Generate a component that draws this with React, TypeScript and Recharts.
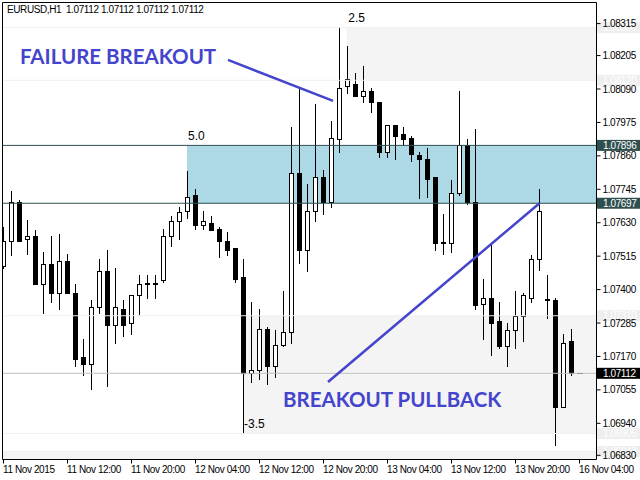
import React from 'react';
import { ComposedChart, Bar, XAxis, YAxis, ReferenceArea, ReferenceLine, ReferenceDot } from 'recharts';

// EURUSD H1 candles (index 0 = 11 Nov 04:00)
const opens = [
  1.07478, 1.07564, 1.07698, 1.07571, 1.07584, 1.07419, 1.07488, 1.07388, 1.07495, 1.07388,
  1.07165, 1.07144, 1.07340, 1.07461, 1.07278, 1.07333, 1.07282, 1.07381, 1.07419, 1.07419,
  1.07430, 1.07581, 1.07633, 1.07667, 1.07725, 1.07622, 1.07629, 1.07608, 1.07567, 1.07540,
  1.07440, 1.07113, 1.07120, 1.07261, 1.07134, 1.07209, 1.07251, 1.07801, 1.07536, 1.07667,
  1.07787, 1.07698, 1.07918, 1.08097, 1.08107, 1.08063, 1.08083, 1.08042, 1.07870, 1.07966,
  1.07932, 1.07921, 1.07860, 1.07849, 1.07784, 1.07560, 1.07560, 1.07729, 1.07894, 1.07698,
  1.07350, 1.07368, 1.07289, 1.07203, 1.07258, 1.07306, 1.07371, 1.07502, 1.07364, 1.07364,
  1.06996, 1.07220, 1.07112,
];
const highs = [
  1.07612, 1.07736, 1.07705, 1.07636, 1.07602, 1.07526, 1.07581, 1.07588, 1.07519, 1.07419,
  1.07230, 1.07361, 1.07502, 1.07536, 1.07471, 1.07364, 1.07381, 1.07450, 1.07447, 1.07447,
  1.07605, 1.07650, 1.07684, 1.07805, 1.07746, 1.07670, 1.07653, 1.07615, 1.07598, 1.07543,
  1.07505, 1.07357, 1.07330, 1.07268, 1.07258, 1.07395, 1.07956, 1.08087, 1.07763, 1.08035,
  1.07808, 1.07977, 1.08300, 1.08235, 1.08142, 1.08169, 1.08093, 1.08045, 1.07966, 1.07966,
  1.07956, 1.07925, 1.07873, 1.07887, 1.07787, 1.07657, 1.07774, 1.08080, 1.07918, 1.07949,
  1.07436, 1.07550, 1.07354, 1.07285, 1.07392, 1.07388, 1.07516, 1.07746, 1.07450, 1.07368,
  1.07244, 1.07264, 1.07112,
];
const lows = [
  1.07474, 1.07516, 1.07564, 1.07519, 1.07416, 1.07319, 1.07354, 1.07333, 1.07385, 1.07137,
  1.07106, 1.07055, 1.07319, 1.07065, 1.07216, 1.07237, 1.07247, 1.07313, 1.07371, 1.07371,
  1.07423, 1.07547, 1.07571, 1.07643, 1.07605, 1.07608, 1.07602, 1.07512, 1.07516, 1.07423,
  1.06907, 1.07079, 1.07089, 1.07072, 1.07096, 1.07203, 1.07216, 1.07491, 1.07461, 1.07633,
  1.07660, 1.07681, 1.07870, 1.08073, 1.08063, 1.08042, 1.08008, 1.07853, 1.07856, 1.07849,
  1.07897, 1.07839, 1.07715, 1.07718, 1.07536, 1.07519, 1.07529, 1.07725, 1.07694, 1.07330,
  1.07227, 1.07172, 1.07199, 1.07134, 1.07196, 1.07220, 1.07357, 1.07464, 1.07299, 1.06865,
  1.06996, 1.07106, 1.07112,
];
const closes = [
  1.07564, 1.07698, 1.07567, 1.07584, 1.07416, 1.07488, 1.07385, 1.07495, 1.07385, 1.07161,
  1.07144, 1.07337, 1.07461, 1.07278, 1.07337, 1.07278, 1.07381, 1.07416, 1.07420, 1.07420,
  1.07581, 1.07633, 1.07664, 1.07718, 1.07619, 1.07633, 1.07602, 1.07567, 1.07536, 1.07436,
  1.07113, 1.07123, 1.07261, 1.07137, 1.07209, 1.07251, 1.07801, 1.07536, 1.07670, 1.07787,
  1.07698, 1.07921, 1.08093, 1.08121, 1.08063, 1.08080, 1.08042, 1.07870, 1.07966, 1.07928,
  1.07918, 1.07863, 1.07849, 1.07780, 1.07560, 1.07561, 1.07732, 1.07897, 1.07698, 1.07344,
  1.07368, 1.07285, 1.07203, 1.07258, 1.07306, 1.07378, 1.07502, 1.07670, 1.07365, 1.06996,
  1.07216, 1.07110, 1.07112,
];

const xTicks = [0, 8, 16, 24, 32, 40, 48, 56, 64, 72];
const xTickLabels = [
  '11 Nov 2015', '11 Nov 12:00', '11 Nov 20:00', '12 Nov 04:00', '12 Nov 12:00',
  '12 Nov 20:00', '13 Nov 04:00', '13 Nov 12:00', '13 Nov 20:00', '16 Nov 04:00',
];
const yTicks = [
  1.08315, 1.08205, 1.0809, 1.07975, 1.0786, 1.07745, 1.0763, 1.07515,
  1.074, 1.07285, 1.0717, 1.07055, 1.0694, 1.0683,
];

// drawn objects
const boxLevels = [1.07896, 1.07697];
const bidPrice = 1.07112;
const zoneLevels = [1.08301, 1.0812, 1.0731, 1.06905, 1.06843];
const blueZoneStart = 22.94;
const topZoneStart = 42.9;
const bottomZoneStart = 29.97;
const failureLine = [{ x: 28.06, y: 1.0819 }, { x: 41.19, y: 1.08049 }];
const pullbackLine = [{ x: 40.56, y: 1.07082 }, { x: 67.0, y: 1.07697 }];
const fiboNotes = [
  { text: '5.0', x: 23.06, y: 1.07915 },
  { text: '2.5', x: 43.1, y: 1.08322 },
  { text: '-3.5', x: 30.06, y: 1.06925 },
];
const bigNotes = [
  { text: 'FAILURE BREAKOUT', x: 2.06, y: 1.08176 },
  { text: 'BREAKOUT PULLBACK', x: 34.94, y: 1.06996 },
];

const xDomain = [-0.125, 74.125];
const yDomain = [1.068155, 1.083876];

const data = opens.map((o, i) => ({
  i,
  open: o,
  high: highs[i],
  low: lows[i],
  close: closes[i],
  range: [lows[i], highs[i]],
}));

const FONT = "'Liberation Sans', Arial, sans-serif";
const NOTE_BLUE = '#4444cc';

const Candle = (props: any) => {
  const { x, y, width, height, payload } = props;
  const { open, close, high, low } = payload;
  const top = Math.min(y, y + height);
  const h = Math.abs(height);
  const span = high - low;
  const py = (v: number) => (span === 0 ? top : top + ((high - v) / span) * h);
  const cx = Math.floor(x + width / 2) + 0.5;
  const yHigh = Math.floor(py(high));
  const yLow = Math.floor(py(low)) + 1;
  const yTop = Math.floor(py(Math.max(open, close))) + 0.5;
  const yBot = Math.floor(py(Math.min(open, close))) + 0.5;
  const bull = close > open;
  return (
    <g>
      <line x1={cx} x2={cx} y1={yHigh} y2={yLow} stroke="#000" strokeWidth={1} />
      {yBot - yTop < 1 ? (
        <line x1={cx - 2.5} x2={cx + 3.5} y1={yTop} y2={yTop} stroke="#000" strokeWidth={1} />
      ) : (
        <rect
          x={cx - 2}
          y={yTop}
          width={4}
          height={yBot - yTop}
          fill={bull ? '#fff' : '#000'}
          stroke="#000"
          strokeWidth={1}
        />
      )}
    </g>
  );
};

const TimeTick = (props: any) => {
  const { x, y, payload } = props;
  const label = xTickLabels[xTicks.indexOf(payload.value)];
  return (
    <text x={x - 0.5} y={y} dy="0.71em" fontSize={10} fontFamily={FONT} letterSpacing={-0.4} fill="#000">
      {label}
    </text>
  );
};

const PriceTick = (props: any) => {
  const { x, y, payload } = props;
  return (
    <text x={x} y={y + 3.5} fontSize={10} fontFamily={FONT} letterSpacing={-0.4} fill="#000">
      {payload.value.toFixed(5)}
    </text>
  );
};

const PriceBox = (props: any) => {
  const { viewBox, text, bg, fg } = props;
  const x = viewBox.x + viewBox.width + 0.5;
  const y = viewBox.y;
  return (
    <g>
      <rect x={x} y={y - 5.5} width={44} height={11} fill={bg} />
      <text x={x + 6} y={y + 3.5} fontSize={10} fontFamily={FONT} letterSpacing={-0.4} fill={fg}>
        {text}
      </text>
    </g>
  );
};

const NoteText = (props: any) => {
  const { viewBox, text, size, color, weight, family } = props;
  return (
    <text x={viewBox.x} y={viewBox.y} fontSize={size} fill={color} fontWeight={weight} fontFamily={family}>
      {text}
    </text>
  );
};

const App: React.FC = () => {
  return (
    <div style={{ position: 'absolute', left: 0, top: 0, width: 640, height: 480, background: '#fff' }}>
      <ComposedChart
        width={640}
        height={480}
        data={data}
        margin={{ top: 2.5, right: 0, bottom: 0, left: 2.5 }}
      >
        <XAxis
          dataKey="i"
          type="number"
          domain={xDomain}
          allowDataOverflow
          ticks={xTicks}
          interval={0}
          height={20.5}
          tickSize={4}
          tickMargin={2}
          tick={<TimeTick />}
          axisLine={{ stroke: '#000' }}
          tickLine={{ stroke: '#000' }}
        />
        <YAxis
          orientation="right"
          type="number"
          domain={yDomain}
          allowDataOverflow
          ticks={yTicks}
          interval={0}
          width={43.5}
          tickSize={4}
          tickMargin={2}
          tick={<PriceTick />}
          axisLine={{ stroke: '#000' }}
          tickLine={{ stroke: '#000' }}
        />

        <ReferenceArea x1={topZoneStart} x2={xDomain[1]} y1={zoneLevels[1]} y2={zoneLevels[0]} fill="#f4f4f4" fillOpacity={1} stroke="none" />
        <ReferenceArea x1={bottomZoneStart} x2={xDomain[1]} y1={zoneLevels[3]} y2={zoneLevels[2]} fill="#f4f4f4" fillOpacity={1} stroke="none" />
        <ReferenceArea x1={xDomain[0]} x2={xDomain[1]} y1={yDomain[0]} y2={zoneLevels[4]} fill="#f4f4f4" fillOpacity={1} stroke="none" />
        <ReferenceArea x1={blueZoneStart} x2={xDomain[1]} y1={boxLevels[1]} y2={boxLevels[0]} fill="#add8e6" fillOpacity={1} stroke="none" />

        <Bar dataKey="range" barSize={5} shape={<Candle />} isAnimationActive={false} />

        {zoneLevels.map((p) => (
          <ReferenceLine
            key={p}
            y={p}
            stroke="#efefef"
            strokeWidth={1}
            label={<PriceBox text={p.toFixed(5)} bg="#eeeeee" fg="#ffffff" />}
          />
        ))}
        <ReferenceLine y={bidPrice} stroke="#c0c0c0" label={<PriceBox text={bidPrice.toFixed(5)} bg="#000" fg="#fff" />} />
        {boxLevels.map((p) => (
          <ReferenceLine
            key={p}
            y={p}
            stroke="#2f4f4f"
            strokeWidth={1}
            label={<PriceBox text={p.toFixed(5)} bg="#2f4f4f" fg="#fff" />}
          />
        ))}

        <ReferenceLine segment={failureLine} stroke={NOTE_BLUE} strokeWidth={2.5} />
        <ReferenceLine segment={pullbackLine} stroke={NOTE_BLUE} strokeWidth={2.5} />

        {fiboNotes.map((n) => (
          <ReferenceDot
            key={n.text}
            x={n.x}
            y={n.y}
            r={0}
            stroke="none"
            fill="none"
            label={<NoteText text={n.text} size={12} color="#000" weight={400} family={FONT} />}
          />
        ))}
        {bigNotes.map((n) => (
          <ReferenceDot
            key={n.text}
            x={n.x}
            y={n.y}
            r={0}
            stroke="none"
            fill="none"
            label={<NoteText text={n.text} size={20.5} color={NOTE_BLUE} weight={700} family="Lato, 'Open Sans', sans-serif" />}
          />
        ))}

        <ReferenceLine x={xDomain[0]} stroke="#000" />
        <ReferenceLine y={yDomain[1]} stroke="#000" />
      </ComposedChart>
      <div
        style={{
          position: 'absolute',
          left: 7,
          top: 4,
          fontFamily: FONT,
          fontSize: 10,
          lineHeight: '12px',
          letterSpacing: -0.4,
          whiteSpace: 'pre',
          color: '#000',
        }}
      >
        {'EURUSD,H1  1.07112 1.07112 1.07112 1.07112'}
      </div>
    </div>
  );
};

export default App;
